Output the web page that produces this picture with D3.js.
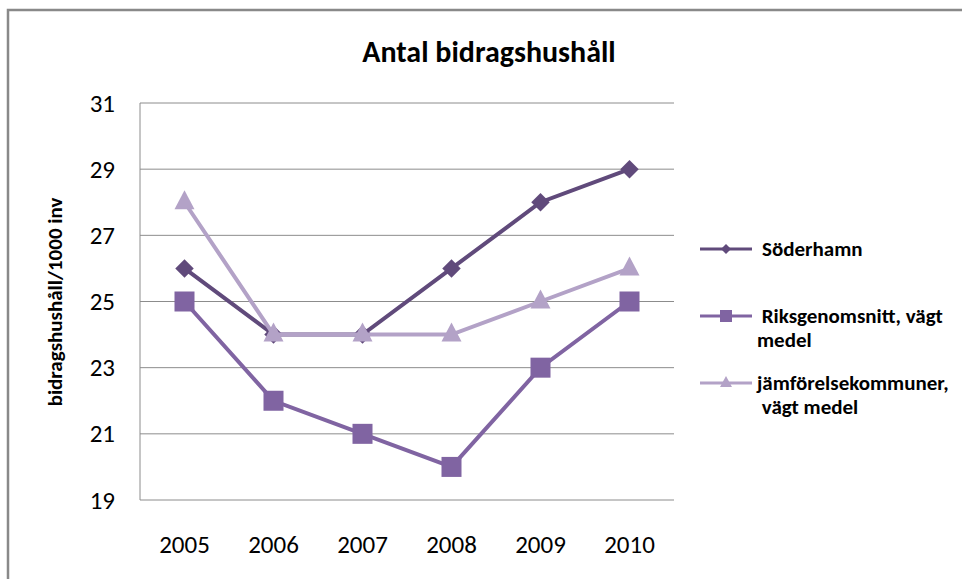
<!DOCTYPE html>
<html>
<head>
<meta charset="utf-8">
<script src="https://cdn.jsdelivr.net/npm/d3@7"></script>
<style>
  body { margin: 0; background: #fff; }
  svg { display: block; font-family: Carlito, Calibri, Lato, sans-serif; }
</style>
</head>
<body>
<div id="chart"></div>
<script>
var years = ["2005", "2006", "2007", "2008", "2009", "2010"];
var soderhamn = [26, 24, 24, 26, 28, 29];
var riks = [25, 22, 21, 20, 23, 25];
var jamfor = [28, 24, 24, 24, 25, 26];
var yTicks = [19, 21, 23, 25, 27, 29, 31];

var width = 962, height = 579;
var plotLeft = 140, plotRight = 674, plotTop = 103, plotBottom = 500;

var series = [
  {name: ["Söderhamn"], values: soderhamn, color: "#604a7b", shape: "diamond"},
  {name: [" Riksgenomsnitt, vägt", "medel"], values: riks, color: "#8064a2", shape: "square"},
  {name: ["jämförelsekommuner,", " vägt medel"], values: jamfor, color: "#b3a2c7", shape: "triangle"}
];

var svg = d3.select("#chart").append("svg")
  .attr("width", width)
  .attr("height", height);

// outer chart border
svg.append("rect")
  .attr("x", 8).attr("y", 10)
  .attr("width", width + 20).attr("height", height + 20)
  .attr("fill", "none")
  .attr("stroke", "#898989")
  .attr("stroke-width", 2.5);

svg.append("text")
  .attr("x", 489).attr("y", 62)
  .attr("text-anchor", "middle")
  .attr("font-size", 30)
  .attr("font-weight", "bold")
  .text("Antal bidragshushåll");

var x = d3.scaleBand().domain(years).range([plotLeft, plotRight]);
var y = d3.scaleLinear().domain([19, 31]).range([plotBottom, plotTop]);

// gridlines
svg.append("g")
  .selectAll("line")
  .data(yTicks)
  .join("line")
  .attr("x1", plotLeft).attr("x2", plotRight)
  .attr("y1", function(d) { return y(d); })
  .attr("y2", function(d) { return y(d); })
  .attr("stroke", "#8c8c8c")
  .attr("stroke-width", 1);

svg.append("line")
  .attr("x1", plotLeft).attr("x2", plotLeft)
  .attr("y1", plotTop).attr("y2", plotBottom)
  .attr("stroke", "#8c8c8c");

var yAxis = svg.append("g")
  .attr("transform", "translate(" + plotLeft + ",0)")
  .call(d3.axisLeft(y).tickValues(yTicks).tickSize(0).tickPadding(25))
  .attr("font-family", null)
  .attr("font-size", 25);
yAxis.select(".domain").remove();
yAxis.selectAll("text").attr("fill", "#000");

var xAxis = svg.append("g")
  .attr("transform", "translate(0," + plotBottom + ")")
  .call(d3.axisBottom(x).tickSize(0).tickPadding(35))
  .attr("font-family", null)
  .attr("font-size", 25);
xAxis.select(".domain").remove();
xAxis.selectAll("text").attr("fill", "#000");

svg.append("text")
  .attr("transform", "translate(62,302) rotate(-90)")
  .attr("text-anchor", "middle")
  .attr("font-size", 21)
  .attr("font-weight", "bold")
  .text("bidragshushåll/1000 inv");

var line = d3.line()
  .x(function(d, i) { return x(years[i]) + x.bandwidth() / 2; })
  .y(function(d) { return y(d); });

function marker(g, shape, color, cx, cy) {
  if (shape == "diamond") {
    g.append("path")
      .attr("d", d3.symbol(d3.symbolSquare, 170)())
      .attr("transform", "translate(" + cx + "," + cy + ") rotate(45)")
      .attr("fill", color);
  } else if (shape == "square") {
    g.append("rect")
      .attr("x", cx - 10).attr("y", cy - 10)
      .attr("width", 20).attr("height", 20)
      .attr("fill", color);
  } else {
    g.append("path")
      .attr("d", "M0,-12L10,7L-10,7Z")
      .attr("transform", "translate(" + cx + "," + cy + ")")
      .attr("fill", color);
  }
}

series.forEach(function(s) {
  var g = svg.append("g");
  g.append("path")
    .attr("d", line(s.values))
    .attr("fill", "none")
    .attr("stroke", s.color)
    .attr("stroke-width", 4);
  s.values.forEach(function(v, i) {
    marker(g, s.shape, s.color, x(years[i]) + x.bandwidth() / 2, y(v));
  });
});

// legend
var legendY = [249, 316, 383];
series.forEach(function(s, i) {
  var g = svg.append("g");
  var ly = legendY[i];
  g.append("line")
    .attr("x1", 700).attr("x2", 752)
    .attr("y1", ly).attr("y2", ly)
    .attr("stroke", s.color)
    .attr("stroke-width", 3);
  if (s.shape == "diamond") {
    g.append("path")
      .attr("d", d3.symbol(d3.symbolSquare, 50)())
      .attr("transform", "translate(726," + ly + ") rotate(45)")
      .attr("fill", s.color);
  } else if (s.shape == "square") {
    g.append("rect").attr("x", 720).attr("y", ly - 6).attr("width", 12).attr("height", 12).attr("fill", s.color);
  } else {
    g.append("path").attr("d", "M0,-7L6,4L-6,4Z")
      .attr("transform", "translate(726," + ly + ")").attr("fill", s.color);
  }
  var t = g.append("text")
    .attr("font-size", 21)
    .attr("font-weight", "bold")
    .attr("fill", "#000")
    .attr("xml:space", "preserve");
  s.name.forEach(function(n, j) {
    t.append("tspan")
      .attr("x", i == 0 ? 762 : 757)
      .attr("y", ly + 7 + j * 24)
      .text(n);
  });
});
</script>
</body>
</html>
